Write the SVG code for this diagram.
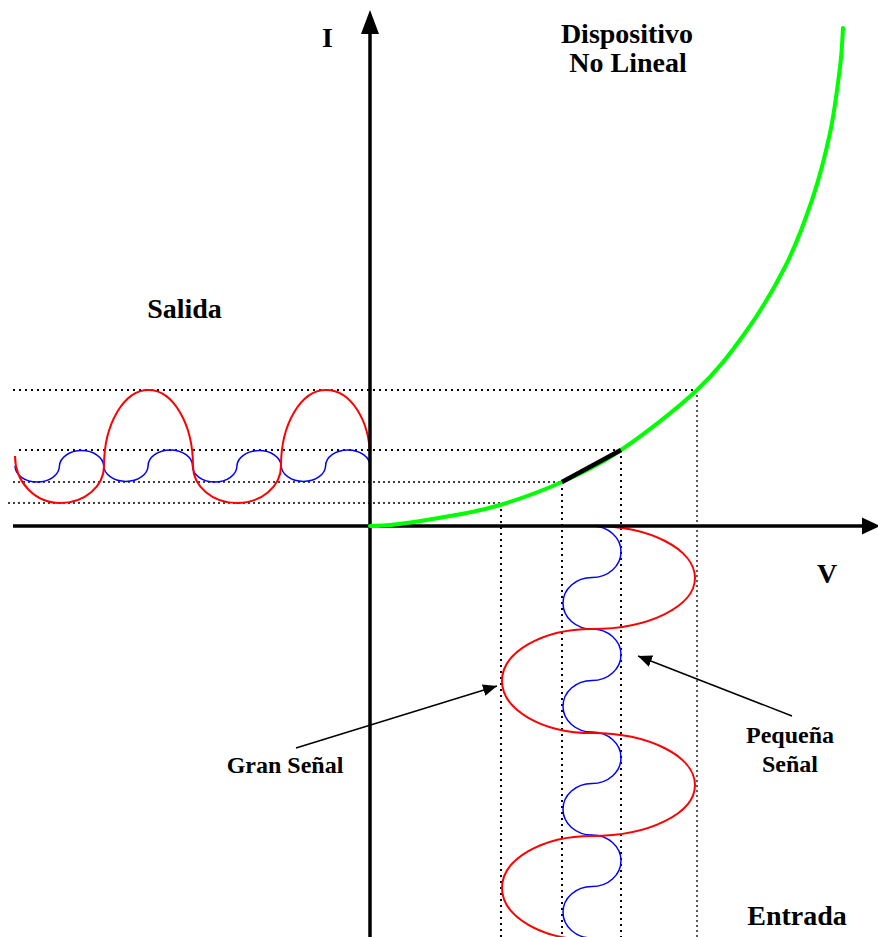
<svg xmlns="http://www.w3.org/2000/svg" width="878" height="937" viewBox="0 0 878 937">
<style>
.lbl{font-family:"Liberation Serif","Times New Roman",serif;font-weight:bold;fill:#000;text-anchor:middle}
.big{font-size:28px}
.small{font-size:24px}
.dotB{stroke:#000;stroke-width:2;stroke-dasharray:2 4;fill:none}
.dotF{stroke:#000;stroke-width:1.3;stroke-dasharray:2 3;fill:none}
.axis{stroke:#000;stroke-width:3.5;fill:none}
.red{stroke:#ff0000;stroke-width:2;fill:none}
.blue{stroke:#0000ff;stroke-width:1.5;fill:none}
.green{stroke:#00ff00;stroke-width:4;fill:none;stroke-linecap:round}
.ptr{stroke:#000;stroke-width:1.5;fill:none}
</style>
<defs>
<marker id="ah" viewBox="0 0 14 12" refX="14" refY="6" markerWidth="14" markerHeight="12" markerUnits="userSpaceOnUse" orient="auto">
<path d="M0,0 L14,6 L0,12 z" fill="#000"/>
</marker>
</defs>
<rect width="878" height="937" fill="#fff"/>

<g id="guides">
<line class="dotB" x1="13" y1="390" x2="697" y2="390"/>
<line class="dotB" x1="19" y1="450" x2="621" y2="450"/>
<line class="dotF" x1="13" y1="482" x2="562" y2="482"/>
<line class="dotF" x1="8" y1="503" x2="500" y2="503"/>
<line class="dotB" x1="501" y1="503" x2="501" y2="937"/>
<line class="dotB" x1="562" y1="482" x2="562" y2="937"/>
<line class="dotB" x1="621" y1="450" x2="621" y2="937"/>
<line class="dotF" x1="697" y1="390" x2="697" y2="937"/>
</g>

<g id="output-signals">
<path class="blue" d="M15,466 A22.19,16 0 0 0 59.4,466 A22.19,16 0 0 1 103.75,466 A22.19,16 0 0 0 148.1,466 A22.19,16 0 0 1 192.5,466 A22.19,16 0 0 0 236.9,466 A22.19,16 0 0 1 281.25,466 A22.19,16 0 0 0 325.6,466 A22.19,16 0 0 1 370,466"/>
<path class="red" d="M15,456 C15,482 35,503 60,503 C84.5,503 104,486.4 104,466 C104,424 124,390 148.5,390 C173,390 193,424 193,466 C193,486.4 212.7,503 237,503 C261.3,503 281,486.4 281,466 C281,424 301,390 326,390 C350.5,390 370,420 370,458"/>
</g>

<g id="input-signals">
<path class="blue" d="M592,526 A29,25.75 0 0 1 592,577.5 A29,25.75 0 0 0 592,629 A29,25.75 0 0 1 592,680.5 A29,25.75 0 0 0 592,732 A29,25.75 0 0 1 592,783.5 A29,25.75 0 0 0 592,835 A29,25.75 0 0 1 592,886.5 A29,25.75 0 0 0 592,938"/>
<path class="red" d="M594,526 C649.8,526 695,549.3 695,578 C695,606.2 648.9,629 592,629 C542.3,629 502,652.3 502,681 C502,709.7 542.3,733 592,733 C648.9,733 695,756.3 695,785 C695,813.4 648.9,836 592,836 C542.3,836 502,859.3 502,888 C502,916.7 542.3,940 592,940"/>
</g>

<g id="axes">
<line class="axis" x1="370" y1="937" x2="370" y2="30"/>
<polygon points="370,10 361,34 379,34" fill="#000"/>
<line class="axis" x1="13" y1="526" x2="864" y2="526"/>
<polygon points="880,526 862,517.5 862,534.5" fill="#000"/>
</g>

<g id="device-curve">
<path class="green" d="M370,526 C400,526 428.3,519.5 450,516 C471.7,512.5 481.3,510.7 500,505 C518.7,499.3 541.8,491.2 562,482 C582.2,472.8 598.5,465.3 621,450 C643.5,434.7 676.3,409.5 697,390 C717.7,370.5 730.3,353.5 745,333 C759.7,312.5 773.8,289.2 785,267 C796.2,244.8 804.5,222.3 812,200 C819.5,177.7 825.3,155.2 830,133 C834.7,110.8 837.8,84.5 840,67 C842.2,49.5 842.5,34.5 843,28"/>
<line x1="562" y1="482" x2="621" y2="450" stroke="#000" stroke-width="4.5"/>
</g>

<g id="label-I"><text class="lbl big" x="327.5" y="47">I</text></g>
<g id="label-V"><text class="lbl big" x="827" y="583">V</text></g>
<g id="label-dispositivo"><text class="lbl big" x="627" y="43">Dispositivo</text><text class="lbl big" x="628" y="72">No Lineal</text></g>
<g id="label-salida"><text class="lbl big" x="184.5" y="318">Salida</text></g>
<g id="label-entrada"><text class="lbl big" x="797" y="925">Entrada</text></g>
<g id="label-gran"><text class="lbl small" x="285" y="773">Gran Señal</text></g>
<g id="label-pequena"><text class="lbl small" x="790" y="743">Pequeña</text><text class="lbl small" x="790" y="772">Señal</text></g>

<g id="connectors">
<line class="ptr" x1="296" y1="748" x2="497" y2="686" marker-end="url(#ah)"/>
<line class="ptr" x1="792" y1="716" x2="638" y2="656" marker-end="url(#ah)"/>
</g>
</svg>
